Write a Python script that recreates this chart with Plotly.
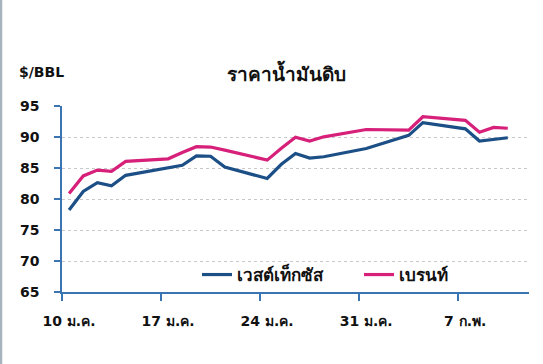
import plotly.graph_objects as go

dates = ["2022-01-10", "2022-01-11", "2022-01-12", "2022-01-13", "2022-01-14",
         "2022-01-17", "2022-01-18", "2022-01-19", "2022-01-20", "2022-01-21",
         "2022-01-24", "2022-01-25", "2022-01-26", "2022-01-27", "2022-01-28",
         "2022-01-31", "2022-02-03", "2022-02-04", "2022-02-07", "2022-02-08",
         "2022-02-09", "2022-02-10"]
wti = [78.23, 81.22, 82.64, 82.12, 83.82,
       None, 85.43, 86.96, 86.90, 85.14,
       83.31, 85.60, 87.35, 86.61, 86.82,
       88.15, 90.27, 92.31, 91.32, 89.36,
       89.66, 89.88]
brent = [80.87, 83.72, 84.67, 84.47, 86.06,
         86.48, 87.51, 88.44, 88.38, 87.89,
         86.27, 88.20, 89.96, 89.34, 90.03,
         91.21, 91.11, 93.27, 92.69, 90.78,
         91.55, 91.41]
tick_dates = ["2022-01-10", "2022-01-17", "2022-01-24", "2022-01-31", "2022-02-07"]
tick_labels = ["10 ม.ค.", "17 ม.ค.", "24 ม.ค.", "31 ม.ค.", "7 ก.พ."]
y_ticks = [65, 70, 75, 80, 85, 90, 95]

# points drawn at the middle of each day (Excel "between tick marks")
xs = [d + " 12:00" for d in dates]

FONT = "DejaVu Sans, Liberation Sans, sans-serif"
AXIS = "#3a74b2"

fig = go.Figure()
fig.add_trace(go.Scatter(x=xs, y=wti, mode="lines", name="<b>เวสต์เท็กซัส</b>",
                         connectgaps=True, line=dict(color="#1c4f86", width=3.2),
                         legend="legend"))
fig.add_trace(go.Scatter(x=xs, y=brent, mode="lines", name="<b>เบรนท์</b>",
                         connectgaps=True, line=dict(color="#d6207a", width=3.2),
                         legend="legend2"))

leg_common = dict(orientation="h", xanchor="left", yanchor="middle",
                  font=dict(size=17, family=FONT, color="#111111"),
                  bgcolor="rgba(0,0,0,0)", itemwidth=30)

fig.update_layout(
    width=543, height=364,
    margin=dict(l=62, r=14, t=106, b=72),
    paper_bgcolor="white", plot_bgcolor="white",
    font=dict(family=FONT, color="#111111"),
    showlegend=True,
    legend=dict(x=(197 - 62) / 467, y=(292 - 275) / 186, **leg_common),
    legend2=dict(x=(359 - 62) / 467, y=(292 - 275) / 186, **leg_common),
    title=dict(text="<b>ราคาน้ำมันดิบ</b>", x=286 / 543, xanchor="center",
               y=1 - 74 / 364, yanchor="middle",
               font=dict(size=19, family=FONT, color="#111111")),
    xaxis=dict(type="date", range=["2022-01-10", "2022-02-12"],
               tickvals=tick_dates, ticktext=["<b>%s</b>" % t for t in tick_labels],
               ticks="outside", ticklen=7, tickcolor=AXIS, tickwidth=1.5,
               showline=True, linecolor=AXIS, linewidth=1.5,
               showgrid=False, zeroline=False,
               tickfont=dict(size=14, family=FONT, color="#111111"),
               ticklabelstandoff=8, ticklabelshift=7),
    yaxis=dict(range=[65, 95], tickvals=y_ticks,
               ticktext=["<b>%d</b>" % v for v in y_ticks],
               ticks="outside", ticklen=6, tickcolor=AXIS, tickwidth=1.5,
               showline=True, linecolor=AXIS, linewidth=1.5,
               showgrid=True, gridcolor="#c8c8c8", griddash="dot", gridwidth=1,
               zeroline=False,
               tickfont=dict(size=14, family=FONT, color="#111111"),
               ticklabelstandoff=12),
)

fig.add_annotation(text="<b>$/BBL</b>", xref="paper", yref="paper",
                   x=(17 - 62) / 467, y=(292 - 72) / 186, xanchor="left", yanchor="middle",
                   showarrow=False, font=dict(size=14, family=FONT, color="#111111"))

# gray frame line at the left edge of the picture
fig.add_shape(type="line", xref="paper", yref="paper",
              x0=(1 - 62) / 467, x1=(1 - 62) / 467,
              y0=(292 - 364) / 186, y1=(292 - 0) / 186,
              line=dict(color="#a7b3bd", width=2.5), layer="above")

fig.write_html("out.html", config={"displayModeBar": False},
               post_script="document.body.style.margin='0';")
